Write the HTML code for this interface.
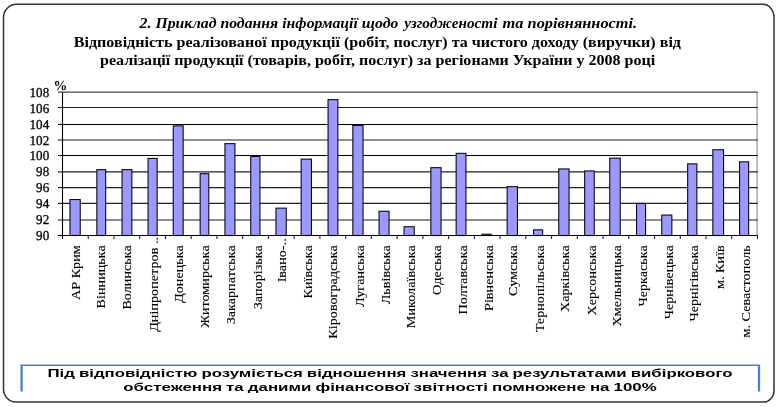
<!DOCTYPE html><html><head><meta charset="utf-8"><title>chart</title><style>html,body{margin:0;padding:0;background:#fff}svg{display:block}text{font-family:"Liberation Serif",serif;fill:#000}.s{font-family:"Liberation Sans",sans-serif;font-weight:bold;font-size:10px;word-spacing:-0.4px}</style></head><body>
<svg width="778" height="407" viewBox="0 0 778 407">
<rect width="778" height="407" fill="#fff"/>
<path d="M16.5 4.35 H763 A11 13 0 0 1 774 17.35 V390.5 A10.5 11.5 0 0 1 763.5 402 H16 A12.5 13 0 0 1 3.5 389 V17.35 A13 13 0 0 1 16.5 4.35 Z" fill="#fff" stroke="#333" stroke-width="1.5"/>
<text y="27.9" font-size="15.2" font-weight="bold" font-style="italic"><tspan x="139.6" textLength="258.8" lengthAdjust="spacingAndGlyphs">2. Приклад подання інформації щодо</tspan> <tspan x="404.2" textLength="93.2" lengthAdjust="spacingAndGlyphs">узгодженості</tspan> <tspan x="502.6" textLength="134.6" lengthAdjust="spacingAndGlyphs">та порівнянності.</tspan></text>
<text x="73.8" y="46.6" font-size="15.2" font-weight="bold" textLength="607.2" lengthAdjust="spacingAndGlyphs">Відповідність реалізованої продукції (робіт, послуг) та чистого доходу (виручки) від</text>
<text x="100" y="65.2" font-size="15.2" font-weight="bold" textLength="555.2" lengthAdjust="spacingAndGlyphs">реалізації продукції (товарів, робіт, послуг) за регіонами України у 2008 році</text>
<line x1="757.1" y1="92.1" x2="757.1" y2="235.5" stroke="#999" stroke-width="1.3"/>
<line x1="62.5" y1="92.1" x2="757.7" y2="92.1" stroke="#444" stroke-width="1.2"/>
<line x1="62.5" y1="107.5" x2="757.7" y2="107.5" stroke="#222" stroke-width="1.15"/>
<line x1="62.5" y1="124.4" x2="757.7" y2="124.4" stroke="#000" stroke-width="1.05"/>
<line x1="62.5" y1="140.0" x2="757.7" y2="140.0" stroke="#222" stroke-width="1.1"/>
<line x1="62.5" y1="155.5" x2="757.7" y2="155.5" stroke="#000" stroke-width="1.05"/>
<line x1="62.5" y1="171.9" x2="757.7" y2="171.9" stroke="#222" stroke-width="1.2"/>
<line x1="62.5" y1="187.6" x2="757.7" y2="187.6" stroke="#222" stroke-width="1.15"/>
<line x1="62.5" y1="203.4" x2="757.7" y2="203.4" stroke="#222" stroke-width="1.15"/>
<line x1="62.5" y1="220.0" x2="757.7" y2="220.0" stroke="#1a1a1a" stroke-width="1.0"/>
<rect x="69.95" y="199.55" width="10.30" height="35.95" fill="#9999ff" stroke="#0a0a14" stroke-width="1.1"/>
<rect x="96.85" y="169.65" width="8.80" height="65.85" fill="#9999ff" stroke="#0a0a14" stroke-width="1.1"/>
<rect x="122.05" y="169.65" width="9.80" height="65.85" fill="#9999ff" stroke="#0a0a14" stroke-width="1.1"/>
<rect x="148.05" y="158.45" width="9.10" height="77.05" fill="#9999ff" stroke="#0a0a14" stroke-width="1.1"/>
<rect x="173.25" y="125.85" width="9.90" height="109.65" fill="#9999ff" stroke="#0a0a14" stroke-width="1.1"/>
<rect x="200.15" y="173.65" width="8.60" height="61.85" fill="#9999ff" stroke="#0a0a14" stroke-width="1.1"/>
<rect x="224.95" y="143.65" width="10.00" height="91.85" fill="#9999ff" stroke="#0a0a14" stroke-width="1.1"/>
<rect x="250.75" y="156.45" width="9.20" height="79.05" fill="#9999ff" stroke="#0a0a14" stroke-width="1.1"/>
<rect x="275.95" y="208.15" width="10.30" height="27.35" fill="#9999ff" stroke="#0a0a14" stroke-width="1.1"/>
<rect x="301.15" y="159.15" width="10.30" height="76.35" fill="#9999ff" stroke="#0a0a14" stroke-width="1.1"/>
<rect x="328.05" y="99.65" width="9.80" height="135.85" fill="#9999ff" stroke="#0a0a14" stroke-width="1.1"/>
<rect x="352.85" y="125.45" width="10.20" height="110.05" fill="#9999ff" stroke="#0a0a14" stroke-width="1.1"/>
<rect x="379.05" y="211.25" width="10.00" height="24.25" fill="#9999ff" stroke="#0a0a14" stroke-width="1.1"/>
<rect x="404.05" y="226.75" width="10.20" height="8.75" fill="#9999ff" stroke="#0a0a14" stroke-width="1.1"/>
<rect x="430.85" y="167.65" width="10.20" height="67.85" fill="#9999ff" stroke="#0a0a14" stroke-width="1.1"/>
<rect x="456.15" y="153.35" width="9.80" height="82.15" fill="#9999ff" stroke="#0a0a14" stroke-width="1.1"/>
<rect x="481.95" y="234.25" width="9.20" height="1.25" fill="#9999ff" stroke="#0a0a14" stroke-width="1.1"/>
<rect x="507.15" y="186.65" width="10.30" height="48.85" fill="#9999ff" stroke="#0a0a14" stroke-width="1.1"/>
<rect x="533.55" y="229.85" width="9.10" height="5.65" fill="#9999ff" stroke="#0a0a14" stroke-width="1.1"/>
<rect x="558.75" y="168.95" width="10.30" height="66.55" fill="#9999ff" stroke="#0a0a14" stroke-width="1.1"/>
<rect x="584.65" y="170.95" width="9.60" height="64.55" fill="#9999ff" stroke="#0a0a14" stroke-width="1.1"/>
<rect x="609.75" y="158.15" width="10.50" height="77.35" fill="#9999ff" stroke="#0a0a14" stroke-width="1.1"/>
<rect x="636.55" y="203.45" width="9.00" height="32.05" fill="#9999ff" stroke="#0a0a14" stroke-width="1.1"/>
<rect x="661.75" y="215.05" width="10.10" height="20.45" fill="#9999ff" stroke="#0a0a14" stroke-width="1.1"/>
<rect x="687.65" y="163.85" width="9.20" height="71.65" fill="#9999ff" stroke="#0a0a14" stroke-width="1.1"/>
<rect x="712.85" y="149.75" width="10.70" height="85.75" fill="#9999ff" stroke="#0a0a14" stroke-width="1.1"/>
<rect x="739.55" y="161.85" width="9.10" height="73.65" fill="#9999ff" stroke="#0a0a14" stroke-width="1.1"/>
<line x1="62.5" y1="92.1" x2="62.5" y2="239.1" stroke="#000" stroke-width="1.1"/>
<line x1="57.9" y1="235.5" x2="757.7" y2="235.5" stroke="#000" stroke-width="1.1"/>
<line x1="57.9" y1="92.1" x2="62.5" y2="92.1" stroke="#444" stroke-width="1.2"/>
<text transform="translate(49.2,96.90) scale(0.97,1)" font-size="13.5" text-anchor="end" stroke="#000" stroke-width="0.3" style="text-rendering:geometricPrecision">108</text>
<line x1="57.9" y1="107.5" x2="62.5" y2="107.5" stroke="#222" stroke-width="1.15"/>
<text transform="translate(49.2,112.79) scale(0.97,1)" font-size="13.5" text-anchor="end" stroke="#000" stroke-width="0.3" style="text-rendering:geometricPrecision">106</text>
<line x1="57.9" y1="124.4" x2="62.5" y2="124.4" stroke="#000" stroke-width="1.05"/>
<text transform="translate(49.2,128.69) scale(0.97,1)" font-size="13.5" text-anchor="end" stroke="#000" stroke-width="0.3" style="text-rendering:geometricPrecision">104</text>
<line x1="57.9" y1="140.0" x2="62.5" y2="140.0" stroke="#222" stroke-width="1.1"/>
<text transform="translate(49.2,144.58) scale(0.97,1)" font-size="13.5" text-anchor="end" stroke="#000" stroke-width="0.3" style="text-rendering:geometricPrecision">102</text>
<line x1="57.9" y1="155.5" x2="62.5" y2="155.5" stroke="#000" stroke-width="1.05"/>
<text transform="translate(49.2,160.48) scale(0.97,1)" font-size="13.5" text-anchor="end" stroke="#000" stroke-width="0.3" style="text-rendering:geometricPrecision">100</text>
<line x1="57.9" y1="171.9" x2="62.5" y2="171.9" stroke="#222" stroke-width="1.2"/>
<text transform="translate(49.2,176.37) scale(0.97,1)" font-size="13.5" text-anchor="end" stroke="#000" stroke-width="0.3" style="text-rendering:geometricPrecision">98</text>
<line x1="57.9" y1="187.6" x2="62.5" y2="187.6" stroke="#222" stroke-width="1.15"/>
<text transform="translate(49.2,192.26) scale(0.97,1)" font-size="13.5" text-anchor="end" stroke="#000" stroke-width="0.3" style="text-rendering:geometricPrecision">96</text>
<line x1="57.9" y1="203.4" x2="62.5" y2="203.4" stroke="#222" stroke-width="1.15"/>
<text transform="translate(49.2,208.16) scale(0.97,1)" font-size="13.5" text-anchor="end" stroke="#000" stroke-width="0.3" style="text-rendering:geometricPrecision">94</text>
<line x1="57.9" y1="220.0" x2="62.5" y2="220.0" stroke="#1a1a1a" stroke-width="1.0"/>
<text transform="translate(49.2,224.05) scale(0.97,1)" font-size="13.5" text-anchor="end" stroke="#000" stroke-width="0.3" style="text-rendering:geometricPrecision">92</text>
<line x1="57.9" y1="235.5" x2="62.5" y2="235.5" stroke="#000" stroke-width="1.1"/>
<text transform="translate(49.2,239.95) scale(0.97,1)" font-size="13.5" text-anchor="end" stroke="#000" stroke-width="0.3" style="text-rendering:geometricPrecision">90</text>
<line x1="88.24" y1="235.5" x2="88.24" y2="239.1" stroke="#222" stroke-width="1.1"/>
<line x1="113.98" y1="235.5" x2="113.98" y2="239.1" stroke="#222" stroke-width="1.1"/>
<line x1="139.72" y1="235.5" x2="139.72" y2="239.1" stroke="#222" stroke-width="1.1"/>
<line x1="165.46" y1="235.5" x2="165.46" y2="239.1" stroke="#222" stroke-width="1.1"/>
<line x1="191.20" y1="235.5" x2="191.20" y2="239.1" stroke="#222" stroke-width="1.1"/>
<line x1="216.94" y1="235.5" x2="216.94" y2="239.1" stroke="#222" stroke-width="1.1"/>
<line x1="242.68" y1="235.5" x2="242.68" y2="239.1" stroke="#222" stroke-width="1.1"/>
<line x1="268.42" y1="235.5" x2="268.42" y2="239.1" stroke="#222" stroke-width="1.1"/>
<line x1="294.16" y1="235.5" x2="294.16" y2="239.1" stroke="#222" stroke-width="1.1"/>
<line x1="319.90" y1="235.5" x2="319.90" y2="239.1" stroke="#222" stroke-width="1.1"/>
<line x1="345.64" y1="235.5" x2="345.64" y2="239.1" stroke="#222" stroke-width="1.1"/>
<line x1="371.38" y1="235.5" x2="371.38" y2="239.1" stroke="#222" stroke-width="1.1"/>
<line x1="397.12" y1="235.5" x2="397.12" y2="239.1" stroke="#222" stroke-width="1.1"/>
<line x1="422.86" y1="235.5" x2="422.86" y2="239.1" stroke="#222" stroke-width="1.1"/>
<line x1="448.60" y1="235.5" x2="448.60" y2="239.1" stroke="#222" stroke-width="1.1"/>
<line x1="474.34" y1="235.5" x2="474.34" y2="239.1" stroke="#222" stroke-width="1.1"/>
<line x1="500.08" y1="235.5" x2="500.08" y2="239.1" stroke="#222" stroke-width="1.1"/>
<line x1="525.82" y1="235.5" x2="525.82" y2="239.1" stroke="#222" stroke-width="1.1"/>
<line x1="551.56" y1="235.5" x2="551.56" y2="239.1" stroke="#222" stroke-width="1.1"/>
<line x1="577.30" y1="235.5" x2="577.30" y2="239.1" stroke="#222" stroke-width="1.1"/>
<line x1="603.04" y1="235.5" x2="603.04" y2="239.1" stroke="#222" stroke-width="1.1"/>
<line x1="628.78" y1="235.5" x2="628.78" y2="239.1" stroke="#222" stroke-width="1.1"/>
<line x1="654.52" y1="235.5" x2="654.52" y2="239.1" stroke="#222" stroke-width="1.1"/>
<line x1="680.26" y1="235.5" x2="680.26" y2="239.1" stroke="#222" stroke-width="1.1"/>
<line x1="706.00" y1="235.5" x2="706.00" y2="239.1" stroke="#222" stroke-width="1.1"/>
<line x1="731.74" y1="235.5" x2="731.74" y2="239.1" stroke="#222" stroke-width="1.1"/>
<line x1="757.48" y1="235.5" x2="757.48" y2="239.1" stroke="#222" stroke-width="1.1"/>
<text transform="translate(53.6,90.2) scale(1.0,1)" font-size="13.8" font-weight="bold" style="text-rendering:geometricPrecision">%</text>
<text transform="translate(80.0,245.2) rotate(-90) scale(1.068,1)" font-size="13.3" text-anchor="end" stroke="#000" stroke-width="0.1">АР Крим</text>
<text transform="translate(104.7,245.2) rotate(-90) scale(1.068,1)" font-size="13.3" text-anchor="end" stroke="#000" stroke-width="0.1">Вінницька</text>
<text transform="translate(131.4,245.2) rotate(-90) scale(1.068,1)" font-size="13.3" text-anchor="end" stroke="#000" stroke-width="0.1">Волинська</text>
<text transform="translate(158.0,237.0) rotate(-90) scale(1.068,1)" font-size="13.3" text-anchor="end" stroke="#000" stroke-width="0.1">Дніпропетров ..</text>
<text transform="translate(182.9,245.2) rotate(-90) scale(1.068,1)" font-size="13.3" text-anchor="end" stroke="#000" stroke-width="0.1">Донецька</text>
<text transform="translate(209.2,245.2) rotate(-90) scale(1.068,1)" font-size="13.3" text-anchor="end" stroke="#000" stroke-width="0.1">Житомирська</text>
<text transform="translate(234.8,245.2) rotate(-90) scale(1.068,1)" font-size="13.3" text-anchor="end" stroke="#000" stroke-width="0.1">Закарпатська</text>
<text transform="translate(261.6,245.2) rotate(-90) scale(1.068,1)" font-size="13.3" text-anchor="end" stroke="#000" stroke-width="0.1">Запорізька</text>
<text transform="translate(286.2,238.3) rotate(-90) scale(1.068,1)" font-size="13.3" text-anchor="end" stroke="#000" stroke-width="0.1">Івано-..</text>
<text transform="translate(311.6,245.2) rotate(-90) scale(1.068,1)" font-size="13.3" text-anchor="end" stroke="#000" stroke-width="0.1">Київська</text>
<text transform="translate(337.4,245.2) rotate(-90) scale(1.068,1)" font-size="13.3" text-anchor="end" stroke="#000" stroke-width="0.1">Кіровоградська</text>
<text transform="translate(364.1,245.2) rotate(-90) scale(1.068,1)" font-size="13.3" text-anchor="end" stroke="#000" stroke-width="0.1">Луганська</text>
<text transform="translate(390.1,245.2) rotate(-90) scale(1.068,1)" font-size="13.3" text-anchor="end" stroke="#000" stroke-width="0.1">Львівська</text>
<text transform="translate(414.9,245.2) rotate(-90) scale(1.068,1)" font-size="13.3" text-anchor="end" stroke="#000" stroke-width="0.1">Миколаївська</text>
<text transform="translate(440.5,245.2) rotate(-90) scale(1.068,1)" font-size="13.3" text-anchor="end" stroke="#000" stroke-width="0.1">Одеська</text>
<text transform="translate(466.5,245.2) rotate(-90) scale(1.068,1)" font-size="13.3" text-anchor="end" stroke="#000" stroke-width="0.1">Полтавська</text>
<text transform="translate(492.6,245.2) rotate(-90) scale(1.068,1)" font-size="13.3" text-anchor="end" stroke="#000" stroke-width="0.1">Рівненська</text>
<text transform="translate(517.1,245.2) rotate(-90) scale(1.068,1)" font-size="13.3" text-anchor="end" stroke="#000" stroke-width="0.1">Сумська</text>
<text transform="translate(543.7,245.2) rotate(-90) scale(1.068,1)" font-size="13.3" text-anchor="end" stroke="#000" stroke-width="0.1">Тернопільська</text>
<text transform="translate(569.3,245.2) rotate(-90) scale(1.068,1)" font-size="13.3" text-anchor="end" stroke="#000" stroke-width="0.1">Харківська</text>
<text transform="translate(595.6,245.2) rotate(-90) scale(1.068,1)" font-size="13.3" text-anchor="end" stroke="#000" stroke-width="0.1">Херсонська</text>
<text transform="translate(621.2,245.2) rotate(-90) scale(1.068,1)" font-size="13.3" text-anchor="end" stroke="#000" stroke-width="0.1">Хмельницька</text>
<text transform="translate(646.5,245.2) rotate(-90) scale(1.068,1)" font-size="13.3" text-anchor="end" stroke="#000" stroke-width="0.1">Черкаська</text>
<text transform="translate(672.8,245.2) rotate(-90) scale(1.068,1)" font-size="13.3" text-anchor="end" stroke="#000" stroke-width="0.1">Чернівецька</text>
<text transform="translate(698.4,245.2) rotate(-90) scale(1.068,1)" font-size="13.3" text-anchor="end" stroke="#000" stroke-width="0.1">Чернігівська</text>
<text transform="translate(724.0,245.2) rotate(-90) scale(1.068,1)" font-size="13.3" text-anchor="end" stroke="#000" stroke-width="0.1">м. Київ</text>
<text transform="translate(749.7,245.2) rotate(-90) scale(1.068,1)" font-size="13.3" text-anchor="end" stroke="#000" stroke-width="0.1">м. Севастополь</text>
<path d="M21.6 391.6 V365.3 M759 365.3 V391.6" fill="none" stroke="#4a80d4" stroke-width="2.3"/>
<line x1="20.5" y1="365.3" x2="760.1" y2="365.3" stroke="#4a80d4" stroke-width="1.5"/>
<g transform="translate(390,0) scale(1.681,1)"><text class="s" x="0" y="376.7" text-anchor="middle">Під відповідністю розуміється відношення значення за результатами вибіркового</text></g>
<g transform="translate(390,0) scale(1.692,1)"><text class="s" x="0" y="390.9" text-anchor="middle">обстеження та даними фінансової звітності помножене на 100%</text></g>
</svg></body></html>
